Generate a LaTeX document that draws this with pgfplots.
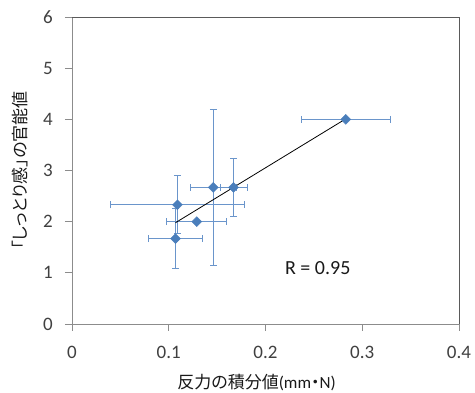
\documentclass[border=0pt]{standalone}
\usepackage{fontspec}
\setmainfont{Carlito}
\newfontfamily\cjk[RawFeature=+palt]{Noto Sans CJK JP}
\usepackage{pgfplots}
\pgfplotsset{compat=1.18}
\definecolor{exblue}{HTML}{4A7EBB}
\definecolor{errblue}{HTML}{6A95CB}
\definecolor{ticktext}{HTML}{404040}
\definecolor{axgray}{HTML}{8C8C8C}
\definecolor{frame}{HTML}{5A5A5A}
\begin{document}
\begin{tikzpicture}
\path[use as bounding box] (-72pt,-69pt) rectangle (403pt,324pt);
\begin{axis}[
  at={(0pt,0pt)}, anchor=south west,
  scale only axis, width=387pt, height=307pt,
  xmin=0, xmax=0.4, ymin=0, ymax=6,
  xtick={0,0.1,0.2,0.3,0.4}, xticklabels={0,0.1,0.2,0.3,0.4},
  ytick={0,1,2,3,4,5,6}, yticklabels={0,1,2,3,4,5,6},
  tick align=outside, major tick length=7pt,
  xtick pos=bottom, ytick pos=left,
  axis line style={axgray, line width=0.8pt},
  tick style={axgray, line width=0.8pt},
  tick label style={font=\fontsize{19}{20}\selectfont, text=ticktext},
  xticklabel style={anchor=base, inner sep=0pt, yshift=-28pt},
  yticklabel style={anchor=east, inner sep=0pt, xshift=-12pt},
  xlabel={{\cjk 反力の積分値}(mm{\cjk ・}N)},
  ylabel={{\cjk 「しっとり感」の官能値}},
  xlabel style={at={(rel axis cs:0.477,0)}, anchor=center, yshift=-59pt, font=\fontsize{17}{18}\selectfont, text=black!90},
  ylabel style={at={(rel axis cs:0,0.5)}, anchor=center, yshift=52pt, font=\fontsize{17}{18}\selectfont, text=black!90},
  clip=false,
]
\addplot[only marks, mark=square*, mark size=3.5pt, mark options={rotate=45, draw=exblue, fill=exblue}, color=exblue,
  error bars/.cd, x dir=both, x explicit, y dir=both, y explicit,
  error bar style={color=errblue, line width=1pt},
  error mark options={rotate=90, color=errblue, mark size=3.5pt, line width=1pt}]
  table[x=x, y=y, x error=ex, y error=ey] {
x     y    ex     ey
0.107 1.67 0.0275 0.58
0.109 2.33 0.0695 0.57
0.129 2.00 0.031  0.0
0.146 2.67 0.024  1.52
0.167 2.67 0.014  0.57
0.283 4.00 0.046  0.0
};
\addplot[black, line width=0.8pt, no marks] coordinates {(0.107,1.98) (0.283,4.01)};
\draw[frame, line width=0.8pt] (rel axis cs:0,1) -- (rel axis cs:1,1) -- (rel axis cs:1,0);
\node[anchor=base, font=\fontsize{20}{21}\selectfont, text=black!90] at (axis cs:0.254,0.96) {R = 0.95};
\end{axis}
\end{tikzpicture}
\end{document}
